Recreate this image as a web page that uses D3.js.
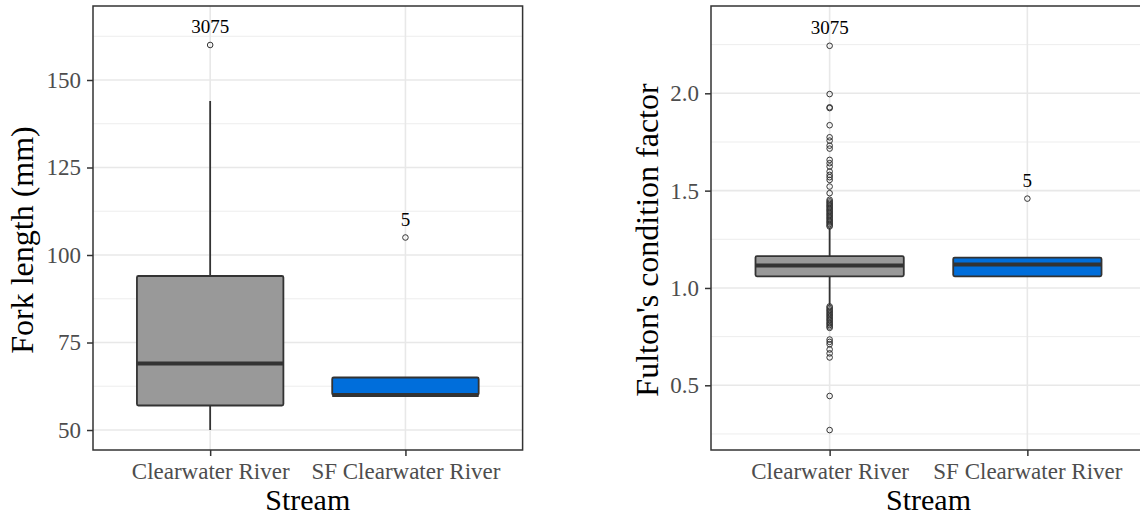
<!DOCTYPE html>
<html>
<head>
<meta charset="utf-8">
<script src="https://cdn.jsdelivr.net/npm/d3@7"></script>
<style>
  body { margin: 0; background: #ffffff; }
  svg { display: block; }
  text { font-family: "Liberation Serif", "Times New Roman", serif; }
</style>
</head>
<body>
<svg id="chart" width="1140" height="518"></svg>
<script>
// Streams on the x axis and their box colours
const streams = ["Clearwater River", "SF Clearwater River"];
const boxFills = ["#999999", "#006EDB"];

// Fork length (mm): box-plot summaries per stream
const lengthLowWhisker = [50, 60];
const lengthQ1 = [57, 60];
const lengthMedian = [69, 60];
const lengthQ3 = [94, 65];
const lengthHighWhisker = [144, 65];
const lengthOutliers = [[160], [105]];
const lengthTicks = [50, 75, 100, 125, 150];

// Fulton's condition factor: box-plot summaries per stream
const conditionLowWhisker = [0.91, 1.058];
const conditionQ1 = [1.06, 1.06];
const conditionMedian = [1.116, 1.12];
const conditionQ3 = [1.164, 1.156];
const conditionHighWhisker = [1.31, 1.156];
const conditionOutliers = [
  [2.244, 1.996, 1.928, 1.924, 1.836, 1.774, 1.757, 1.731, 1.716, 1.658, 1.641,
   1.624, 1.598, 1.581, 1.569, 1.555, 1.521, 1.487, 1.453, 1.445, 1.438, 1.431,
   1.424, 1.418, 1.411, 1.404, 1.398, 1.391, 1.384, 1.377, 1.370, 1.363, 1.356,
   1.349, 1.342, 1.336, 1.329, 1.322, 1.316,
   0.905, 0.898, 0.890, 0.883, 0.876, 0.868, 0.861, 0.854, 0.846, 0.839, 0.832,
   0.824, 0.817, 0.810, 0.802, 0.795, 0.735, 0.723, 0.711, 0.684, 0.664, 0.643,
   0.445, 0.270],
  [1.459]
];
const conditionTicks = [0.5, 1.0, 1.5, 2.0];

// Fish IDs labelling the largest outlier in each stream
const outlierIds = ["3075", "5"];

const svg = d3.select("#chart");

function drawPanel(opt) {
  const { left, right, top, bottom } = opt;
  const g = svg.append("g");

  const x = d3.scalePoint().domain(streams).range([left, right]).padding(0.6);
  const y = d3.scaleLinear().domain(opt.yDomain).range([bottom, top]);
  const boxW = x.step() * 0.75;

  // minor grid lines halfway between the major ticks
  const step = opt.ticks[1] - opt.ticks[0];
  const minor = [];
  for (let v = opt.ticks[0] - step / 2; v <= opt.yDomain[1]; v += step) {
    if (v >= opt.yDomain[0]) minor.push(v);
  }
  g.selectAll(".minor").data(minor).join("line")
    .attr("x1", left).attr("x2", right)
    .attr("y1", d => y(d)).attr("y2", d => y(d))
    .attr("stroke", "#ebebeb").attr("stroke-width", 0.9);
  g.selectAll(".major").data(opt.ticks).join("line")
    .attr("x1", left).attr("x2", right)
    .attr("y1", d => y(d)).attr("y2", d => y(d))
    .attr("stroke", "#e8e8e8").attr("stroke-width", 1.6);
  g.selectAll(".vmajor").data(streams).join("line")
    .attr("x1", d => x(d)).attr("x2", d => x(d))
    .attr("y1", top).attr("y2", bottom)
    .attr("stroke", "#e8e8e8").attr("stroke-width", 1.6);

  const rows = streams.map((s, i) => ({
    s, i,
    lo: opt.lo[i], q1: opt.q1[i], med: opt.med[i], q3: opt.q3[i], hi: opt.hi[i],
    out: opt.out[i]
  }));

  // whiskers
  const wh = g.selectAll(".whisker").data(rows).join("g");
  wh.append("line")
    .attr("x1", d => x(d.s)).attr("x2", d => x(d.s))
    .attr("y1", d => y(d.hi)).attr("y2", d => y(d.q3))
    .attr("stroke", "#333333").attr("stroke-width", 1.8);
  wh.append("line")
    .attr("x1", d => x(d.s)).attr("x2", d => x(d.s))
    .attr("y1", d => y(d.q1)).attr("y2", d => y(d.lo))
    .attr("stroke", "#333333").attr("stroke-width", 1.8);

  // boxes
  g.selectAll(".box").data(rows).join("rect")
    .attr("x", d => x(d.s) - boxW / 2)
    .attr("width", boxW)
    .attr("y", d => y(d.q3))
    .attr("height", d => y(d.q1) - y(d.q3))
    .attr("fill", d => boxFills[d.i])
    .attr("stroke", "#333333").attr("stroke-width", 1.8)
    .attr("rx", 1.5);

  // medians
  g.selectAll(".median").data(rows).join("line")
    .attr("x1", d => x(d.s) - boxW / 2).attr("x2", d => x(d.s) + boxW / 2)
    .attr("y1", d => y(d.med)).attr("y2", d => y(d.med))
    .attr("stroke", "#333333").attr("stroke-width", 4);

  // outliers
  const pts = rows.flatMap(d => d.out.map(v => ({ s: d.s, v })));
  g.selectAll(".outlier").data(pts).join("circle")
    .attr("cx", d => x(d.s)).attr("cy", d => y(d.v))
    .attr("r", 2.8)
    .attr("fill", "none").attr("stroke", "#333333").attr("stroke-width", 1);

  // ID labels above the largest outlier
  g.selectAll(".idlabel").data(rows).join("text")
    .attr("x", d => x(d.s))
    .attr("y", d => y(d3.max(d.out)) - 11.5)
    .attr("text-anchor", "middle")
    .attr("font-size", 19)
    .attr("fill", "#000000")
    .text(d => outlierIds[d.i]);

  // panel border
  g.append("rect")
    .attr("x", left).attr("y", top)
    .attr("width", right - left).attr("height", bottom - top)
    .attr("fill", "none").attr("stroke", "#333333").attr("stroke-width", 1.5);

  // axes
  const ya = g.append("g").attr("transform", `translate(${left},0)`)
    .call(d3.axisLeft(y).tickValues(opt.ticks).tickFormat(opt.fmt).tickSize(6).tickPadding(6));
  const xa = g.append("g").attr("transform", `translate(0,${bottom})`)
    .call(d3.axisBottom(x).tickSize(6).tickPadding(7));
  [ya, xa].forEach(a => {
    a.select(".domain").remove();
    a.selectAll(".tick line").attr("stroke", "#333333").attr("stroke-width", 1.5);
    a.selectAll(".tick text")
      .attr("fill", "#4d4d4d")
      .attr("font-size", 23)
      .attr("font-family", "Liberation Serif, Times New Roman, serif");
  });

  // axis titles
  g.append("text")
    .attr("x", (left + right) / 2).attr("y", 510)
    .attr("text-anchor", "middle").attr("font-size", 30).attr("fill", "#000")
    .text("Stream");
  g.append("text")
    .attr("transform", `translate(${opt.titleX},${(top + bottom) / 2 + 12}) rotate(-90)`)
    .attr("text-anchor", "middle").attr("font-size", 32).attr("fill", "#000")
    .text(opt.title);
}

drawPanel({
  left: 93, right: 522.6, top: 6, bottom: 450,
  yDomain: [44.29, 171.14], ticks: lengthTicks, fmt: d3.format("d"),
  lo: lengthLowWhisker, q1: lengthQ1, med: lengthMedian, q3: lengthQ3, hi: lengthHighWhisker,
  out: lengthOutliers, title: "Fork length (mm)", titleX: 33
});

drawPanel({
  left: 711, right: 1146, top: 6, bottom: 450,
  yDomain: [0.1676, 2.4485], ticks: conditionTicks, fmt: d3.format(".1f"),
  lo: conditionLowWhisker, q1: conditionQ1, med: conditionMedian, q3: conditionQ3, hi: conditionHighWhisker,
  out: conditionOutliers, title: "Fulton's condition factor", titleX: 658
});
</script>
</body>
</html>
